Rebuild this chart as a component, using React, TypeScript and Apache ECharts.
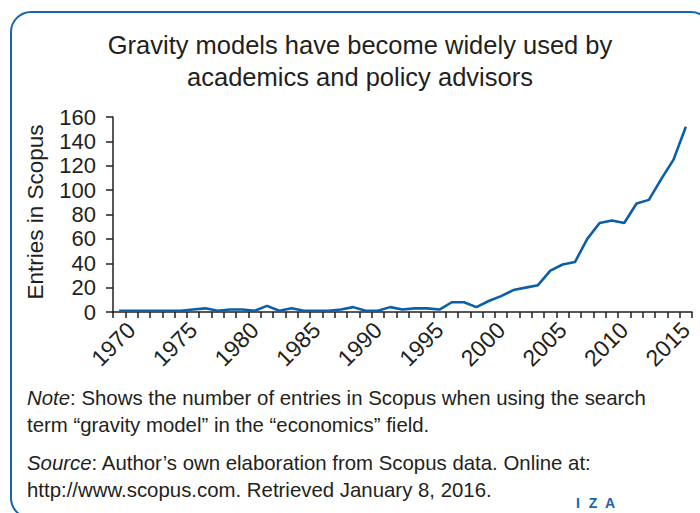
import React, { useEffect, useRef } from "react";
import * as echarts from "echarts";

const years: string[] = [
  "1969","1970","1971","1972","1973","1974","1975","1976","1977","1978",
  "1979","1980","1981","1982","1983","1984","1985","1986","1987","1988",
  "1989","1990","1991","1992","1993","1994","1995","1996","1997","1998",
  "1999","2000","2001","2002","2003","2004","2005","2006","2007","2008",
  "2009","2010","2011","2012","2013","2014","2015",
];
const entries: number[] = [
  1, 1, 1, 1, 1, 1, 2, 3, 1, 2,
  2, 1, 5, 1, 3, 1, 1, 1, 2, 4,
  1, 1, 4, 2, 3, 3, 2, 8, 8, 4,
  9, 13, 18, 20, 22, 34, 39, 41, 60, 73,
  75, 73, 89, 92, 109, 125, 152,
];
const yTicks = { min: 0, max: 160, interval: 20 };
const titleLines: string[] = [
  "Gravity models have become widely used by",
  "academics and policy advisors",
];
const yName = "Entries in Scopus";
const noteLines: string[] = [
  "{i|Note}: Shows the number of entries in Scopus when using the search",
  "term “gravity model” in the “economics” field.",
];
const sourceLines: string[] = [
  "{i|Source}: Author’s own elaboration from Scopus data. Online at:",
  "http://www.scopus.com. Retrieved January 8, 2016.",
];
const logoLetters: string[] = ["I", "Z", "A"];

const FONT = "'Liberation Sans', Arial, sans-serif";
const TXT = "#231f20";
const BLUE = "#0b5ea8";
const FRAME = "#1565b0";

export default function App() {
  const ref = useRef<HTMLDivElement>(null);
  useEffect(() => {
    if (!ref.current) return;
    const chart = echarts.init(ref.current, null, { renderer: "svg" });
    const noteSize = 20.4;
    const rich = { i: { fontStyle: "italic", fontSize: noteSize, fontFamily: FONT, fill: TXT } };
    const textEl = (t: string, x: number, y: number, size: number, align = "left") => ({
      type: "text",
      x,
      y,
      style: {
        text: t,
        fontSize: size,
        fontFamily: FONT,
        fill: TXT,
        align,
        verticalAlign: "middle",
        rich,
      },
    });
    const logoX = [578, 593, 610];
    chart.setOption({
      animation: false,
      backgroundColor: "#ffffff",
      grid: { left: 113, right: 8, top: 117, bottom: 201, containLabel: false },
      xAxis: {
        type: "category",
        data: years,
        boundaryGap: true,
        axisLine: { lineStyle: { color: TXT, width: 1.5 } },
        axisTick: { show: true, interval: 0, length: 6, lineStyle: { color: TXT, width: 1.5 } },
        axisLabel: {
          interval: (_i: number, v: string) => Number(v) % 5 === 0,
          rotate: 45,
          fontSize: 23,
          fontFamily: FONT,
          color: TXT,
          margin: 14,
        },
        splitLine: { show: false },
      },
      yAxis: {
        type: "value",
        min: yTicks.min,
        max: yTicks.max,
        interval: yTicks.interval,
        axisLine: { show: true, lineStyle: { color: TXT, width: 1.5 } },
        axisTick: { show: true, length: 7, lineStyle: { color: TXT, width: 1.5 } },
        axisLabel: { fontSize: 22, fontFamily: FONT, color: TXT, margin: 17 },
        splitLine: { show: false },
      },
      series: [
        {
          type: "line",
          data: entries,
          symbol: "none",
          lineStyle: { color: BLUE, width: 2.6 },
        },
      ],
      graphic: [
        {
          type: "rect",
          shape: { x: 11, y: 12, width: 700, height: 506, r: 20 },
          style: { fill: "none", stroke: FRAME, lineWidth: 2 },
          silent: true,
        },
        textEl(titleLines[0], 360, 45, 25.5, "center"),
        textEl(titleLines[1], 360, 77, 25.5, "center"),
        {
          type: "text",
          x: 35,
          y: 212,
          rotation: Math.PI / 2,
          style: {
            text: yName,
            fontSize: 22.5,
            fontFamily: FONT,
            fill: TXT,
            align: "center",
            verticalAlign: "middle",
          },
        },
        textEl(noteLines[0], 27, 398, noteSize),
        textEl(noteLines[1], 27, 425, noteSize),
        textEl(sourceLines[0], 27, 463, noteSize),
        textEl(sourceLines[1], 27, 490, noteSize),
        ...logoLetters.map((l, i) => ({
          type: "text",
          x: logoX[i],
          y: 503,
          style: {
            text: l,
            fontSize: 14,
            fontWeight: "bold",
            fontFamily: FONT,
            fill: FRAME,
            align: "center",
            verticalAlign: "middle",
          },
        })),
      ],
    });
    return () => chart.dispose();
  }, []);
  return (
    <div
      ref={ref}
      style={{ position: "fixed", left: 0, top: 0, width: 700, height: 513 }}
    />
  );
}
